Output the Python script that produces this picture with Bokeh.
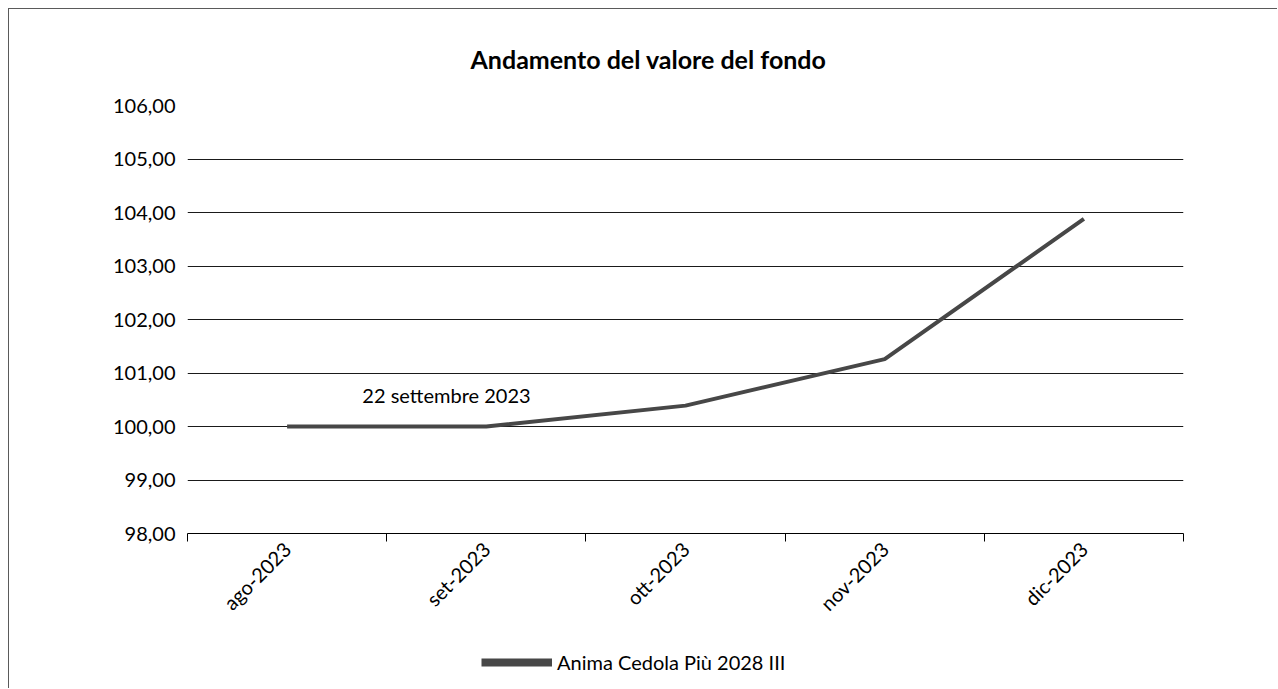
import math
from bokeh.plotting import figure
from bokeh.layouts import column
from bokeh.models import (Range1d, LinearAxis, FixedTicker, Legend, LegendItem, Label,
                          ColumnDataSource, CustomJSTickFormatter)
from bokeh.embed import file_html
from bokeh.resources import INLINE

months = ["ago-2023", "set-2023", "ott-2023", "nov-2023", "dic-2023"]
values = [100.00, 100.00, 100.39, 101.26, 103.88]
series_name = "Anima Cedola Più 2028 III"
title_text = "Andamento del valore del fondo"
note_text = "22 settembre 2023"
note_pos = (1.3, 100.58)
y_ticks = [98, 99, 100, 101, 102, 103, 104, 105, 106]

FONT = "Lato"
LINE_COLOR = "#474747"
BORDER = "1px solid #5a5a5a"

n = len(months)
centers = [i + 0.5 for i in range(n)]
bounds = list(range(n + 1))

p = figure(width=1269, height=620, output_backend="svg", toolbar_location=None,
           x_range=Range1d(0, n), y_range=Range1d(98, 106),
           x_axis_location=None, title=title_text)

p.min_border_left = 178
p.min_border_right = 95
p.min_border_top = 96
p.min_border_bottom = 96
p.outline_line_color = None
p.background_fill_color = "white"
p.border_fill_color = "white"
p.styles = {"border-left": BORDER, "border-top": BORDER}

p.title.text_font = FONT
p.title.text_font_size = "25px"
p.title.text_font_style = "bold"
p.title.text_color = "#000000"
p.title.align = "left"
p.title.offset = 283
p.title.standoff = 64

# y axis
p.yaxis.ticker = FixedTicker(ticks=y_ticks)
p.yaxis.formatter = CustomJSTickFormatter(code="return tick.toFixed(2).replace('.', ',');")
p.yaxis.axis_line_color = None
p.yaxis.major_tick_line_color = None
p.yaxis.minor_tick_line_color = None
p.yaxis.major_label_text_font = FONT
p.yaxis.major_label_text_font_size = "20px"
p.yaxis.major_label_text_color = "#000000"
p.yaxis.major_label_standoff = 6

p.ygrid.ticker = FixedTicker(ticks=y_ticks)
p.ygrid.grid_line_color = "#1a1a1a"
p.ygrid.grid_line_width = 1
p.xgrid.grid_line_color = None

# x axis: labels at category centres, tick marks at category boundaries
x_axis = LinearAxis(ticker=FixedTicker(ticks=centers, minor_ticks=bounds),
                    major_label_overrides={c: m for c, m in zip(centers, months)},
                    axis_line_color="#000000", major_tick_line_color=None,
                    major_tick_out=8, major_tick_in=0,
                    minor_tick_line_color="#000000", minor_tick_out=8, minor_tick_in=0,
                    major_label_orientation=math.pi / 4,
                    major_label_text_font=FONT, major_label_text_font_size="20px",
                    major_label_text_color="#000000", major_label_standoff=4)
p.add_layout(x_axis, "below")

src = ColumnDataSource(dict(x=centers, y=values, m=months))
p.line("x", "y", source=src, line_color=LINE_COLOR, line_width=4)

p.add_layout(Label(x=note_pos[0], y=note_pos[1], text=note_text, text_align="center",
                   text_baseline="middle", text_font=FONT, text_font_size="20px",
                   text_color="#000000"))

# legend strip below the chart (its series renderer lies outside this strip's ranges)
lg = figure(width=1269, height=60, output_backend="svg", toolbar_location=None,
            x_range=Range1d(0, 1), y_range=Range1d(0, 1),
            x_axis_location=None, y_axis_location=None, min_border=0)
lg.outline_line_color = None
lg.grid.grid_line_color = None
lg.background_fill_color = "white"
lg.border_fill_color = "white"
lg.styles = {"border-left": BORDER}
legend_renderer = lg.line("x", "y", source=src, line_color=LINE_COLOR, line_width=8)
legend = Legend(items=[LegendItem(label=series_name, renderers=[legend_renderer])],
                orientation="horizontal", location=(294, 14), border_line_color=None,
                background_fill_alpha=0, label_text_font=FONT, label_text_font_size="20px",
                label_text_color="#000000", glyph_width=71, glyph_height=20,
                label_standoff=5, margin=0, padding=0)
lg.add_layout(legend, "center")

layout = column(p, lg, spacing=0)
layout.styles = {"margin-left": "8px", "margin-top": "8px"}

open("out.html", "w").write(file_html(layout, INLINE))
